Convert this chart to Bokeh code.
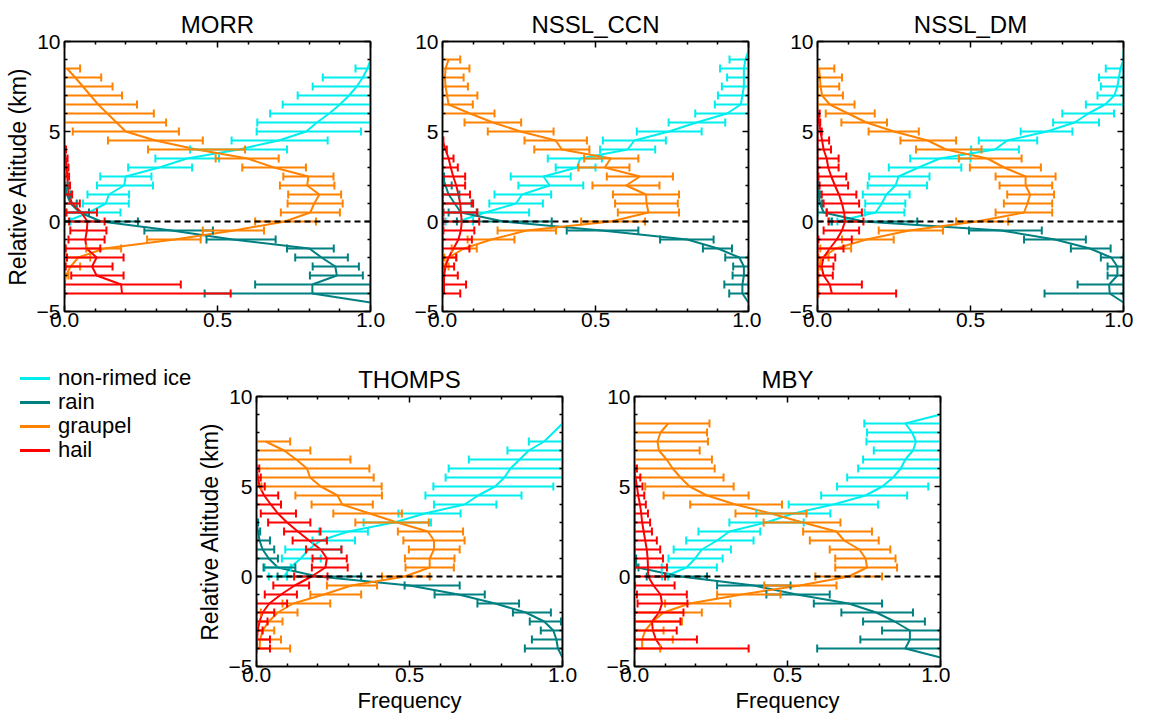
from bokeh.plotting import figure
from bokeh.models import (ColumnDataSource, Whisker, TeeHead, Span, FixedTicker, LinearAxis,
                          Range1d, PrintfTickFormatter, Div)
from bokeh.layouts import column, row
from bokeh.embed import file_html
from bokeh.resources import INLINE

# ---------------- data ----------------
SPECIES = ["non-rimed ice", "rain", "graupel", "hail"]

# MORR
MORR_ICE_ALT = [9.5, 9.0, 8.5, 8.0, 7.5, 7.0, 6.5, 6.0, 5.5, 5.0, 4.5, 4.0, 3.5, 3.0, 2.5, 2.0, 1.5, 1.0, 0.5, 0.0]
MORR_ICE_MEAN = [1.0, 1.0, 0.99, 0.975, 0.955, 0.93, 0.9, 0.865, 0.825, 0.79, 0.70, 0.57, 0.40, 0.31, 0.20, 0.195, 0.145, 0.135, 0.08, 0.005]
MORR_ICE_LO = [1.0, 1.0, 0.951, 0.844, 0.811, 0.762, 0.713, 0.672, 0.63, 0.628, 0.546, 0.41, 0.297, 0.208, 0.117, 0.106, 0.075, 0.06, 0.008, 0.0]
MORR_ICE_HI = [1.0, 1.0, 1.0, 1.0, 1.0, 1.0, 1.0, 1.0, 1.0, 0.969, 0.86, 0.727, 0.505, 0.417, 0.284, 0.289, 0.211, 0.21, 0.183, 0.02]

MORR_RAIN_ALT = [2.0, 1.5, 1.0, 0.5, 0.0, -0.5, -1.0, -1.5, -2.0, -2.5, -3.0, -3.5, -4.0, -4.5]
MORR_RAIN_MEAN = [0.003, 0.008, 0.02, 0.05, 0.12, 0.35, 0.55, 0.80, 0.84, 0.885, 0.89, 0.81, 0.81, 1.0]
MORR_RAIN_LO = [0.0, 0.0, 0.0, 0.0, 0.0, 0.261, 0.464, 0.727, 0.754, 0.811, 0.802, 0.623, 0.458, 1.0]
MORR_RAIN_HI = [0.01, 0.02, 0.04, 0.08, 0.24, 0.485, 0.69, 0.88, 0.926, 0.962, 0.975, 1.0, 1.0, 1.0]

MORR_GRAU_ALT = [8.5, 8.0, 7.5, 7.0, 6.5, 6.0, 5.5, 5.0, 4.5, 4.0, 3.5, 3.0, 2.5, 2.0, 1.5, 1.0, 0.5, 0.0, -0.5, -1.0, -1.5, -2.0, -2.5, -3.0, -3.5]
MORR_GRAU_MEAN = [0.008, 0.035, 0.06, 0.085, 0.11, 0.14, 0.17, 0.2, 0.297, 0.432, 0.598, 0.685, 0.797, 0.793, 0.833, 0.816, 0.803, 0.72, 0.554, 0.36, 0.13, 0.045, 0.02, 0.005, 0.0]
MORR_GRAU_LO = [0.0, 0.0, 0.0, 0.0, 0.0, 0.0, 0.0, 0.027, 0.142, 0.273, 0.494, 0.581, 0.715, 0.704, 0.731, 0.729, 0.707, 0.623, 0.452, 0.27, 0.071, 0.008, 0.0, 0.0, 0.0]
MORR_GRAU_HI = [0.051, 0.12, 0.157, 0.188, 0.237, 0.292, 0.332, 0.374, 0.452, 0.59, 0.70, 0.789, 0.879, 0.882, 0.904, 0.909, 0.9, 0.822, 0.652, 0.445, 0.185, 0.084, 0.051, 0.013, 0.0]

MORR_HAIL_ALT = [4.0, 3.5, 3.0, 2.5, 2.0, 1.5, 1.0, 0.5, 0.0, -0.5, -1.0, -1.5, -2.0, -2.5, -3.0, -3.5, -4.0]
MORR_HAIL_MEAN = [0.0, 0.004, 0.007, 0.009, 0.011, 0.014, 0.025, 0.055, 0.075, 0.073, 0.068, 0.072, 0.105, 0.09, 0.105, 0.185, 0.188]
MORR_HAIL_LO = [0.0, 0.0, 0.0, 0.0, 0.0, 0.0, 0.0, 0.005, 0.015, 0.019, 0.013, 0.004, 0.008, 0.004, 0.022, 0.0, 0.0]
MORR_HAIL_HI = [0.005, 0.01, 0.013, 0.015, 0.018, 0.025, 0.05, 0.106, 0.131, 0.137, 0.131, 0.117, 0.193, 0.157, 0.193, 0.38, 0.543]

# NSSL_CCN
CCN_ICE_ALT = [9.5, 9.0, 8.5, 8.0, 7.5, 7.0, 6.5, 6.0, 5.5, 5.0, 4.5, 4.0, 3.5, 3.0, 2.5, 2.0, 1.5, 1.0, 0.5, 0.0]
CCN_ICE_MEAN = [1.0, 0.99, 0.985, 0.985, 0.985, 0.98, 0.975, 0.93, 0.83, 0.74, 0.627, 0.605, 0.45, 0.44, 0.33, 0.35, 0.26, 0.24, 0.14, 0.05]
CCN_ICE_LO = [1.0, 0.938, 0.907, 0.93, 0.913, 0.9, 0.89, 0.826, 0.739, 0.635, 0.524, 0.515, 0.344, 0.37, 0.223, 0.248, 0.17, 0.153, 0.003, 0.01]
CCN_ICE_HI = [1.0, 1.0, 1.0, 1.0, 1.0, 1.0, 1.0, 1.0, 0.924, 0.847, 0.73, 0.695, 0.521, 0.50, 0.419, 0.46, 0.355, 0.328, 0.283, 0.1]

CCN_RAIN_ALT = [2.5, 2.0, 1.5, 1.0, 0.5, 0.0, -0.5, -1.0, -1.5, -2.0, -2.5, -3.0, -3.5, -4.0, -4.5]
CCN_RAIN_MEAN = [0.0, 0.01, 0.02, 0.04, 0.06, 0.2, 0.52, 0.8, 0.9, 0.97, 0.985, 0.985, 0.98, 0.98, 1.0]
CCN_RAIN_LO = [0.0, 0.0, 0.0, 0.0, 0.02, 0.047, 0.406, 0.711, 0.851, 0.924, 0.95, 0.948, 0.921, 0.937, 1.0]
CCN_RAIN_HI = [0.005, 0.03, 0.055, 0.095, 0.112, 0.357, 0.64, 0.886, 0.946, 1.0, 1.0, 1.0, 1.0, 1.0, 1.0]

CCN_GRAU_ALT = [9.0, 8.5, 8.0, 7.5, 7.0, 6.5, 6.0, 5.5, 5.0, 4.5, 4.0, 3.5, 3.0, 2.5, 2.0, 1.5, 1.0, 0.5, 0.0, -0.5, -1.0, -1.5, -2.0, -2.5, -3.0]
CCN_GRAU_MEAN = [0.02, 0.01, 0.008, 0.01, 0.015, 0.02, 0.09, 0.165, 0.255, 0.37, 0.39, 0.55, 0.53, 0.645, 0.60, 0.665, 0.667, 0.673, 0.55, 0.275, 0.16, 0.07, 0.02, 0.005, 0.0]
CCN_GRAU_LO = [0.0, 0.0, 0.0, 0.0, 0.0, 0.0, 0.0, 0.072, 0.148, 0.268, 0.30, 0.463, 0.444, 0.537, 0.49, 0.557, 0.564, 0.573, 0.453, 0.18, 0.082, 0.03, 0.006, 0.0, 0.0]
CCN_GRAU_HI = [0.058, 0.088, 0.069, 0.083, 0.114, 0.099, 0.17, 0.257, 0.363, 0.472, 0.48, 0.64, 0.611, 0.753, 0.709, 0.773, 0.769, 0.773, 0.662, 0.371, 0.235, 0.112, 0.045, 0.02, 0.0]

CCN_HAIL_ALT = [4.5, 4.0, 3.5, 3.0, 2.5, 2.0, 1.5, 1.0, 0.5, 0.0, -0.5, -1.0, -1.5, -2.0, -2.5, -3.0, -3.5, -4.0]
CCN_HAIL_MEAN = [0.0, 0.01, 0.02, 0.027, 0.035, 0.045, 0.052, 0.058, 0.06, 0.063, 0.06, 0.052, 0.036, 0.02, 0.01, 0.005, 0.005, 0.005]
CCN_HAIL_LO = [0.0, 0.0, 0.0, 0.0, 0.0, 0.0, 0.0, 0.0, 0.003, 0.003, 0.003, 0.0, 0.0, 0.0, 0.0, 0.0, 0.0, 0.0]
CCN_HAIL_HI = [0.003, 0.014, 0.036, 0.05, 0.074, 0.074, 0.09, 0.1, 0.114, 0.12, 0.104, 0.096, 0.088, 0.045, 0.038, 0.05, 0.077, 0.058]

# NSSL_DM
DM_ICE_ALT = [9.5, 9.0, 8.5, 8.0, 7.5, 7.0, 6.5, 6.0, 5.5, 5.0, 4.5, 4.0, 3.5, 3.0, 2.5, 2.0, 1.5, 1.0, 0.5, 0.0]
DM_ICE_MEAN = [1.0, 1.0, 0.99, 0.985, 0.98, 0.97, 0.94, 0.885, 0.84, 0.75, 0.62, 0.58, 0.40, 0.33, 0.265, 0.255, 0.225, 0.21, 0.19, 0.06]
DM_ICE_LO = [1.0, 1.0, 0.942, 0.92, 0.926, 0.915, 0.877, 0.80, 0.77, 0.664, 0.527, 0.502, 0.303, 0.233, 0.169, 0.164, 0.148, 0.156, 0.154, 0.04]
DM_ICE_HI = [1.0, 1.0, 1.0, 1.0, 1.0, 1.0, 1.0, 0.969, 0.92, 0.833, 0.718, 0.658, 0.50, 0.47, 0.366, 0.358, 0.301, 0.287, 0.284, 0.065]

DM_RAIN_ALT = [2.5, 2.0, 1.5, 1.0, 0.5, 0.0, -0.5, -1.0, -1.5, -2.0, -2.5, -3.0, -3.5, -4.0, -4.5]
DM_RAIN_MEAN = [0.0, 0.002, 0.004, 0.008, 0.02, 0.15, 0.6, 0.776, 0.89, 0.96, 0.98, 0.98, 0.953, 0.955, 1.0]
DM_RAIN_LO = [0.0, 0.0, 0.0, 0.0, 0.0, 0.047, 0.495, 0.675, 0.828, 0.926, 0.948, 0.948, 0.85, 0.742, 1.0]
DM_RAIN_HI = [0.002, 0.005, 0.008, 0.015, 0.03, 0.326, 0.733, 0.877, 0.958, 1.0, 1.0, 1.0, 1.0, 1.0, 1.0]

DM_GRAU_ALT = [8.5, 8.0, 7.5, 7.0, 6.5, 6.0, 5.5, 5.0, 4.5, 4.0, 3.5, 3.0, 2.5, 2.0, 1.5, 1.0, 0.5, 0.0, -0.5, -1.0, -1.5, -2.0, -2.5, -3.0, -3.5, -4.0]
DM_GRAU_MEAN = [0.005, 0.008, 0.01, 0.015, 0.04, 0.1, 0.16, 0.25, 0.36, 0.42, 0.555, 0.61, 0.68, 0.68, 0.695, 0.686, 0.675, 0.52, 0.3, 0.16, 0.06, 0.015, 0.003, 0.0, 0.0, 0.0]
DM_GRAU_LO = [0.0, 0.0, 0.0, 0.0, 0.0, 0.027, 0.078, 0.167, 0.271, 0.322, 0.462, 0.498, 0.582, 0.595, 0.62, 0.609, 0.582, 0.453, 0.2, 0.08, 0.009, 0.003, 0.0, 0.0, 0.0, 0.0]
DM_GRAU_HI = [0.055, 0.08, 0.071, 0.083, 0.121, 0.187, 0.227, 0.331, 0.453, 0.536, 0.667, 0.73, 0.778, 0.767, 0.773, 0.767, 0.767, 0.623, 0.41, 0.249, 0.11, 0.036, 0.009, 0.003, 0.003, 0.003]

DM_HAIL_ALT = [6.0, 5.5, 5.0, 4.5, 4.0, 3.5, 3.0, 2.5, 2.0, 1.5, 1.0, 0.5, 0.0, -0.5, -1.0, -1.5, -2.0, -2.5, -3.0, -3.5, -4.0]
DM_HAIL_MEAN = [0.003, 0.005, 0.01, 0.015, 0.02, 0.03, 0.035, 0.045, 0.057, 0.07, 0.08, 0.087, 0.09, 0.08, 0.063, 0.04, 0.02, 0.013, 0.02, 0.04, 0.047]
DM_HAIL_LO = [0.0, 0.0, 0.0, 0.0, 0.0, 0.0, 0.0, 0.003, 0.007, 0.014, 0.02, 0.03, 0.036, 0.02, 0.003, 0.0, 0.0, 0.0, 0.0, 0.0, 0.0]
DM_HAIL_HI = [0.007, 0.009, 0.014, 0.038, 0.044, 0.069, 0.069, 0.094, 0.1, 0.127, 0.136, 0.145, 0.15, 0.136, 0.112, 0.085, 0.058, 0.052, 0.05, 0.145, 0.257]

# THOMPS
TH_ICE_ALT = [8.5, 8.0, 7.5, 7.0, 6.5, 6.0, 5.5, 5.0, 4.5, 4.0, 3.5, 3.0, 2.5, 2.0, 1.5, 1.0, 0.5, 0.0]
TH_ICE_MEAN = [1.0, 0.97, 0.94, 0.89, 0.86, 0.83, 0.81, 0.78, 0.724, 0.68, 0.55, 0.45, 0.30, 0.21, 0.17, 0.145, 0.11, 0.09]
TH_ICE_LO = [1.0, 0.97, 0.89, 0.82, 0.694, 0.628, 0.618, 0.578, 0.552, 0.58, 0.464, 0.35, 0.205, 0.183, 0.094, 0.083, 0.027, 0.04]
TH_ICE_HI = [1.0, 0.97, 1.0, 1.0, 1.0, 1.0, 1.0, 0.97, 0.866, 0.784, 0.667, 0.57, 0.364, 0.322, 0.276, 0.21, 0.112, 0.1]

TH_RAIN_ALT = [3.0, 2.5, 2.0, 1.5, 1.0, 0.5, 0.0, -0.5, -1.0, -1.5, -2.0, -2.5, -3.0, -3.5, -4.0, -4.5]
TH_RAIN_MEAN = [0.0, 0.005, 0.01, 0.02, 0.04, 0.07, 0.2, 0.5, 0.66, 0.78, 0.88, 0.94, 0.97, 0.98, 0.985, 1.0]
TH_RAIN_LO = [0.0, 0.0, 0.0, 0.0, 0.0, 0.023, 0.069, 0.484, 0.582, 0.722, 0.838, 0.893, 0.929, 0.90, 0.877, 1.0]
TH_RAIN_HI = [0.005, 0.012, 0.044, 0.058, 0.07, 0.127, 0.342, 0.664, 0.746, 0.858, 0.962, 0.995, 1.0, 1.0, 1.0, 1.0]

TH_GRAU_ALT = [7.5, 7.0, 6.5, 6.0, 5.5, 5.0, 4.5, 4.0, 3.5, 3.0, 2.5, 2.0, 1.5, 1.0, 0.5, 0.0, -0.5, -1.0, -1.5, -2.0, -2.5, -3.0, -3.5, -4.0]
TH_GRAU_MEAN = [0.03, 0.09, 0.13, 0.165, 0.175, 0.21, 0.265, 0.28, 0.37, 0.46, 0.56, 0.58, 0.58, 0.566, 0.566, 0.484, 0.31, 0.22, 0.12, 0.07, 0.04, 0.02, 0.012, 0.01]
TH_GRAU_LO = [0.0, 0.0, 0.0, 0.0, 0.0, 0.016, 0.127, 0.18, 0.251, 0.323, 0.462, 0.48, 0.498, 0.485, 0.487, 0.41, 0.23, 0.176, 0.085, 0.014, 0.0, 0.0, 0.0, 0.0]
TH_GRAU_HI = [0.11, 0.176, 0.307, 0.369, 0.383, 0.409, 0.41, 0.38, 0.475, 0.563, 0.675, 0.68, 0.664, 0.647, 0.645, 0.566, 0.394, 0.342, 0.241, 0.134, 0.085, 0.058, 0.08, 0.11]

TH_HAIL_ALT = [6.0, 5.5, 5.0, 4.5, 4.0, 3.5, 3.0, 2.5, 2.0, 1.5, 1.0, 0.5, 0.0, -0.5, -1.0, -1.5, -2.0, -2.5, -3.0, -3.5, -4.0]
TH_HAIL_MEAN = [0.0, 0.005, 0.01, 0.025, 0.047, 0.07, 0.1, 0.135, 0.172, 0.21, 0.23, 0.225, 0.18, 0.125, 0.08, 0.042, 0.02, 0.01, 0.004, 0.002, 0.002]
TH_HAIL_LO = [0.0, 0.0, 0.0, 0.0, 0.0, 0.014, 0.038, 0.09, 0.118, 0.162, 0.183, 0.181, 0.123, 0.055, 0.027, 0.0, 0.0, 0.0, 0.0, 0.0, 0.0]
TH_HAIL_HI = [0.009, 0.014, 0.027, 0.071, 0.08, 0.129, 0.176, 0.209, 0.23, 0.278, 0.295, 0.298, 0.232, 0.172, 0.132, 0.1, 0.058, 0.036, 0.02, 0.044, 0.044]

# MBY
MBY_ICE_ALT = [9.0, 8.5, 8.0, 7.5, 7.0, 6.5, 6.0, 5.5, 5.0, 4.5, 4.0, 3.5, 3.0, 2.5, 2.0, 1.5, 1.0, 0.5, 0.0]
MBY_ICE_MEAN = [1.0, 0.885, 0.907, 0.92, 0.91, 0.885, 0.87, 0.845, 0.81, 0.755, 0.65, 0.52, 0.43, 0.31, 0.27, 0.22, 0.198, 0.17, 0.1]
MBY_ICE_LO = [1.0, 0.751, 0.76, 0.758, 0.782, 0.747, 0.731, 0.695, 0.662, 0.61, 0.504, 0.398, 0.31, 0.209, 0.169, 0.128, 0.111, 0.089, 0.09]
MBY_ICE_HI = [1.0, 1.0, 1.0, 1.0, 1.0, 1.0, 1.0, 1.0, 0.96, 0.891, 0.796, 0.64, 0.553, 0.411, 0.389, 0.315, 0.288, 0.269, 0.11]

MBY_RAIN_ALT = [1.0, 0.5, 0.0, -0.5, -1.0, -1.5, -2.0, -2.5, -3.0, -3.5, -4.0, -4.5]
MBY_RAIN_MEAN = [0.0, 0.01, 0.15, 0.39, 0.53, 0.70, 0.79, 0.85, 0.90, 0.90, 0.885, 1.0]
MBY_RAIN_LO = [0.0, 0.0, 0.04, 0.27, 0.431, 0.586, 0.676, 0.747, 0.809, 0.738, 0.597, 1.0]
MBY_RAIN_HI = [0.005, 0.013, 0.237, 0.51, 0.638, 0.809, 0.91, 0.949, 1.0, 1.0, 1.0, 1.0]

MBY_GRAU_ALT = [8.5, 8.0, 7.5, 7.0, 6.5, 6.0, 5.5, 5.0, 4.5, 4.0, 3.5, 3.0, 2.5, 2.0, 1.5, 1.0, 0.5, 0.0, -0.5, -1.0, -1.5, -2.0, -2.5, -3.0, -3.5, -4.0]
MBY_GRAU_MEAN = [0.11, 0.085, 0.075, 0.08, 0.105, 0.125, 0.15, 0.18, 0.237, 0.33, 0.446, 0.55, 0.66, 0.685, 0.735, 0.755, 0.76, 0.70, 0.54, 0.35, 0.18, 0.095, 0.06, 0.035, 0.025, 0.025]
MBY_GRAU_LO = [0.0, 0.0, 0.0, 0.0, 0.0, 0.0, 0.0, 0.035, 0.095, 0.182, 0.33, 0.422, 0.551, 0.573, 0.638, 0.656, 0.656, 0.591, 0.424, 0.27, 0.10, 0.0, 0.0, 0.0, 0.0, 0.0]
MBY_GRAU_HI = [0.245, 0.237, 0.24, 0.213, 0.253, 0.262, 0.291, 0.324, 0.373, 0.482, 0.562, 0.673, 0.776, 0.798, 0.836, 0.853, 0.858, 0.809, 0.66, 0.477, 0.313, 0.22, 0.155, 0.095, 0.125, 0.084]

MBY_HAIL_ALT = [6.0, 5.5, 5.0, 4.5, 4.0, 3.5, 3.0, 2.5, 2.0, 1.5, 1.0, 0.5, 0.0, -0.5, -1.0, -1.5, -2.0, -2.5, -3.0, -3.5, -4.0]
MBY_HAIL_MEAN = [0.0, 0.003, 0.008, 0.012, 0.018, 0.022, 0.025, 0.03, 0.035, 0.04, 0.043, 0.044, 0.045, 0.062, 0.085, 0.09, 0.08, 0.057, 0.06, 0.07, 0.09]
MBY_HAIL_LO = [0.0, 0.0, 0.0, 0.0, 0.0, 0.0, 0.0, 0.0, 0.0, 0.0, 0.0, 0.0, 0.0, 0.002, 0.008, 0.01, 0.0, 0.0, 0.0, 0.0, 0.0]
MBY_HAIL_HI = [0.008, 0.019, 0.026, 0.032, 0.037, 0.044, 0.051, 0.057, 0.073, 0.084, 0.093, 0.106, 0.1, 0.131, 0.171, 0.173, 0.16, 0.15, 0.138, 0.204, 0.373]

X_TICKS = [0.0, 0.5, 1.0]
X_MINOR = [0.1, 0.2, 0.3, 0.4, 0.6, 0.7, 0.8, 0.9]
Y_TICKS = [-5, 0, 5, 10]
Y_MINOR = [-4, -3, -2, -1, 1, 2, 3, 4, 6, 7, 8, 9]
Y_LABELS = {-5: "\u22125", 0: "0", 5: "5", 10: "10"}

# ---------------- style ----------------
COLORS = ["#00EEEE", "#008080", "#FF8200", "#FF0000"]
FONT = "Liberation Sans"


def style_axis(ax):
    ax.major_tick_in = 6
    ax.major_tick_out = 0
    ax.minor_tick_in = 3
    ax.minor_tick_out = 0
    ax.axis_line_width = 1.5
    ax.axis_line_color = "black"
    ax.major_tick_line_width = 1.5
    ax.minor_tick_line_width = 1.5
    ax.major_tick_line_color = "black"
    ax.minor_tick_line_color = "black"
    ax.major_label_text_font = FONT
    ax.major_label_text_font_size = "21px"
    ax.major_label_text_color = "black"
    ax.axis_label_text_font = FONT
    ax.axis_label_text_font_size = "22px"
    ax.axis_label_text_font_style = "normal"
    ax.axis_label_text_color = "black"


def make_panel(title, series, ml, mr, mb, ylabel=False, xlabel=False):
    p = figure(title=title, frame_width=306, frame_height=270,
               x_range=Range1d(0, 1), y_range=Range1d(-5, 10),
               output_backend="svg", toolbar_location=None,
               min_border_left=ml, min_border_right=mr, min_border_top=41, min_border_bottom=mb,
               background_fill_color="white", border_fill_color="white")
    p.xgrid.visible = False
    p.ygrid.visible = False
    p.outline_line_color = "black"
    p.outline_line_width = 1.5
    p.title.text_font = FONT
    p.title.text_font_size = "24px"
    p.title.text_font_style = "normal"
    p.title.text_color = "black"
    p.title.align = "center"
    p.title.standoff = 8

    xa = p.xaxis[0]
    ya = p.yaxis[0]
    xa.ticker = FixedTicker(ticks=X_TICKS, minor_ticks=X_MINOR)
    ya.ticker = FixedTicker(ticks=Y_TICKS, minor_ticks=Y_MINOR)
    style_axis(xa)
    style_axis(ya)
    xa.formatter = PrintfTickFormatter(format="%.1f")
    xa.major_label_standoff = 1
    ya.major_label_standoff = 4
    ya.major_label_overrides = Y_LABELS
    if ylabel:
        ya.axis_label = "Relative Altitude (km)"
        ya.axis_label_text_font_size = "23px"
        ya.axis_label_standoff = 3
    if xlabel:
        xa.axis_label = "Frequency"
        xa.axis_label_standoff = 3

    top = LinearAxis(ticker=FixedTicker(ticks=X_TICKS, minor_ticks=X_MINOR))
    style_axis(top)
    top.major_label_overrides = {0: "", 0.5: "", 1: ""}
    top.major_label_standoff = 0
    top.major_label_text_font_size = "1px"
    p.add_layout(top, "above")
    right = LinearAxis(ticker=FixedTicker(ticks=Y_TICKS, minor_ticks=Y_MINOR))
    style_axis(right)
    right.major_label_overrides = {-5: "", 0: "", 5: "", 10: ""}
    right.major_label_standoff = 0
    right.major_label_text_font_size = "1px"
    p.add_layout(right, "right")

    for (alt, mean, lo, hi), color in zip(series, COLORS):
        src = ColumnDataSource(dict(alt=alt, mean=mean))
        p.line("mean", "alt", source=src, line_color=color, line_width=2)
        keep = [i for i in range(len(alt)) if hi[i] > lo[i]]
        bsrc = ColumnDataSource(dict(alt=[alt[i] for i in keep],
                                     lo=[lo[i] for i in keep],
                                     hi=[hi[i] for i in keep]))
        w = Whisker(base="alt", lower="lo", upper="hi", dimension="width", source=bsrc,
                    line_color=color, line_width=2, level="glyph",
                    upper_head=TeeHead(size=8, line_color=color, line_width=2),
                    lower_head=TeeHead(size=8, line_color=color, line_width=2))
        p.add_layout(w)

    p.add_layout(Span(location=0, dimension="width", line_color="black",
                      line_width=2, line_dash="6 4"))
    return p


p1 = make_panel("MORR", [(MORR_ICE_ALT, MORR_ICE_MEAN, MORR_ICE_LO, MORR_ICE_HI),
                         (MORR_RAIN_ALT, MORR_RAIN_MEAN, MORR_RAIN_LO, MORR_RAIN_HI),
                         (MORR_GRAU_ALT, MORR_GRAU_MEAN, MORR_GRAU_LO, MORR_GRAU_HI),
                         (MORR_HAIL_ALT, MORR_HAIL_MEAN, MORR_HAIL_LO, MORR_HAIL_HI)],
                ml=64, mr=16, mb=44, ylabel=True)
p2 = make_panel("NSSL_CCN", [(CCN_ICE_ALT, CCN_ICE_MEAN, CCN_ICE_LO, CCN_ICE_HI),
                             (CCN_RAIN_ALT, CCN_RAIN_MEAN, CCN_RAIN_LO, CCN_RAIN_HI),
                             (CCN_GRAU_ALT, CCN_GRAU_MEAN, CCN_GRAU_LO, CCN_GRAU_HI),
                             (CCN_HAIL_ALT, CCN_HAIL_MEAN, CCN_HAIL_LO, CCN_HAIL_HI)],
                ml=56, mr=13, mb=44)
p3 = make_panel("NSSL_DM", [(DM_ICE_ALT, DM_ICE_MEAN, DM_ICE_LO, DM_ICE_HI),
                            (DM_RAIN_ALT, DM_RAIN_MEAN, DM_RAIN_LO, DM_RAIN_HI),
                            (DM_GRAU_ALT, DM_GRAU_MEAN, DM_GRAU_LO, DM_GRAU_HI),
                            (DM_HAIL_ALT, DM_HAIL_MEAN, DM_HAIL_LO, DM_HAIL_HI)],
                ml=56, mr=10, mb=44)
p4 = make_panel("THOMPS", [(TH_ICE_ALT, TH_ICE_MEAN, TH_ICE_LO, TH_ICE_HI),
                           (TH_RAIN_ALT, TH_RAIN_MEAN, TH_RAIN_LO, TH_RAIN_HI),
                           (TH_GRAU_ALT, TH_GRAU_MEAN, TH_GRAU_LO, TH_GRAU_HI),
                           (TH_HAIL_ALT, TH_HAIL_MEAN, TH_HAIL_LO, TH_HAIL_HI)],
                ml=63, mr=16, mb=55, ylabel=True, xlabel=True)
p5 = make_panel("MBY", [(MBY_ICE_ALT, MBY_ICE_MEAN, MBY_ICE_LO, MBY_ICE_HI),
                        (MBY_RAIN_ALT, MBY_RAIN_MEAN, MBY_RAIN_LO, MBY_RAIN_HI),
                        (MBY_GRAU_ALT, MBY_GRAU_MEAN, MBY_GRAU_LO, MBY_GRAU_HI),
                        (MBY_HAIL_ALT, MBY_HAIL_MEAN, MBY_HAIL_LO, MBY_HAIL_HI)],
                ml=56, mr=10, mb=55, xlabel=True)

# legend block to the left of THOMPS (species names with their line colours)
entries = []
for i, (name, color) in enumerate(zip(SPECIES, COLORS)):
    top_px = 11 + 24 * i
    entries.append(
        f'<div style="position:absolute;left:20px;top:{top_px + 11}px;width:30px;height:3px;'
        f'background:{color};"></div>'
        f'<div style="position:absolute;left:58px;top:{top_px}px;height:24px;line-height:24px;'
        f'font-family:\'{FONT}\';font-size:22px;color:black;white-space:nowrap;">{name}</div>'
    )
legend_html = ('<div style="position:relative;width:193px;height:120px;margin:0;padding:0;">'
               + "".join(entries) + "</div>")
legend_div = Div(text=legend_html, width=193, height=120, margin=(0, 0, 0, 0))

layout = column(row(p1, p2, p3), row(legend_div, p4, p5))
open("out.html", "w").write(file_html(layout, INLINE))
